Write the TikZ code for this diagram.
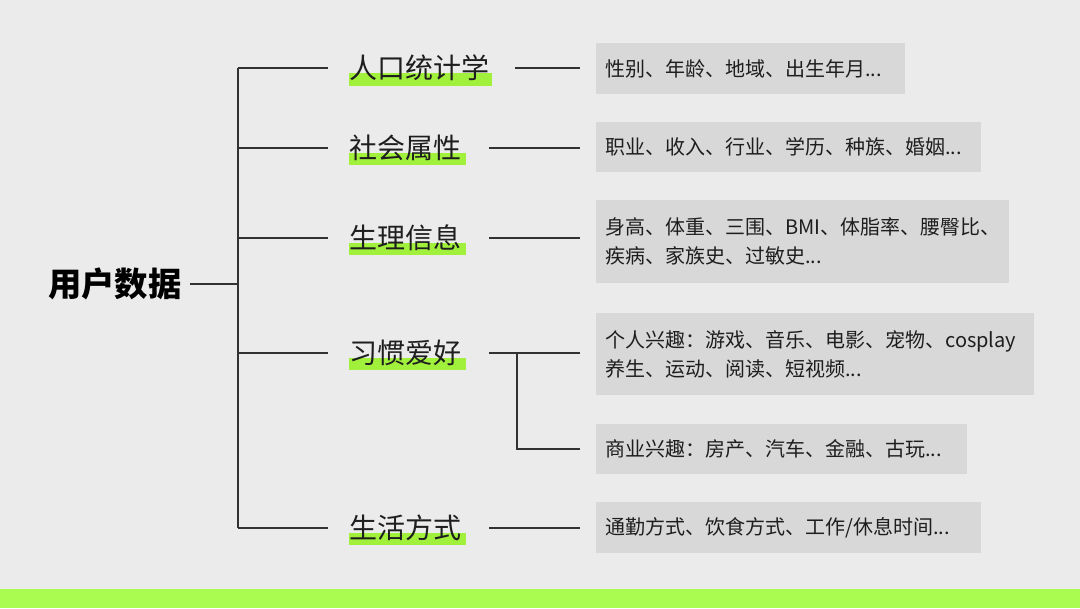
\documentclass[tikz,border=0pt]{standalone}
\usepackage{fontspec}
\usetikzlibrary{calc}
\setmainfont{Noto Sans CJK SC}
\definecolor{bg}{RGB}{235,235,235}
\definecolor{lime}{RGB}{170,252,80}
\definecolor{hl}{RGB}{160,240,60}
\definecolor{boxgray}{RGB}{216,216,216}
\definecolor{ink}{RGB}{30,30,30}
\definecolor{wire}{RGB}{50,50,50}
\begin{document}
\begin{tikzpicture}[x=0.75pt,y=-0.75pt,
  wire/.style={draw=wire, line width=1pt},
  cat/.style={anchor=west, inner xsep=15.75pt, inner ysep=0pt, text=ink, font=\fontsize{21}{25}\selectfont},
  infobox/.style={fill=boxgray, anchor=north west, inner xsep=6.75pt, inner ysep=0pt, align=left, text=ink, font=\fontsize{15}{21.75}\selectfont},
  hlbar/.style={fill=hl}]
\useasboundingbox (0,0) rectangle (1080,608);
\fill[bg] (0,0) rectangle (1080,608);
\fill[lime] (0,589) rectangle (1080,608);

% highlights
\fill[hlbar] (349,73) rectangle (492,86);
\fill[hlbar] (349,153) rectangle (466,165);
\fill[hlbar] (349,243) rectangle (466,255);
\fill[hlbar] (349,358) rectangle (466,370);
\fill[hlbar] (349,533) rectangle (466,545);

% root
\node[anchor=west, inner xsep=0pt, inner ysep=0pt, text=black, font=\fontsize{25}{30}\selectfont\bfseries] (root) at (48,284) {用户数据};

% trunk coordinates
\coordinate (tr) at (238,284);
\coordinate (t1) at (238,68);
\coordinate (t2) at (238,148);
\coordinate (t3) at (238,238);
\coordinate (t4) at (238,353);
\coordinate (t5) at (238,528);

% categories
\node[cat] (c1) at (328,68) {人口统计学};
\node[cat] (c2) at (328,148) {社会属性};
\node[cat] (c3) at (328,238) {生理信息};
\node[cat] (c4) at (328,353) {习惯爱好};
\node[cat] (c5) at (328,528) {生活方式};

% boxes
\node[infobox, text width=218.25pt, minimum height=38.25pt] (b1) at (596,43) {性别、年龄、地域、出生年月...};
\node[infobox, text width=275.25pt, minimum height=37.5pt] (b2) at (596,122) {职业、收入、行业、学历、种族、婚姻...};
\node[infobox, text width=296.25pt, minimum height=62.25pt] (b3) at (596,200) {身高、体重、三围、BMI、体脂率、腰臀比、\\疾病、家族史、过敏史...};
\node[infobox, text width=315pt, minimum height=61.5pt] (b4) at (596,313) {个人兴趣：游戏、音乐、电影、宠物、cosplay\\养生、运动、阅读、短视频...};
\node[infobox, text width=264.75pt, minimum height=37.5pt] (b5) at (596,424) {商业兴趣：房产、汽车、金融、古玩...};
\node[infobox, text width=275.25pt, minimum height=38.25pt] (b6) at (596,502) {通勤方式、饮食方式、工作/休息时间...};

% connectors
\draw[wire] ([xshift=6pt]root.east) -- (tr);
\draw[wire] (t1) -- (t5);
\draw[wire] (t1) -- (c1.west);
\draw[wire] (t2) -- (c2.west);
\draw[wire] (t3) -- (c3.west);
\draw[wire] (t4) -- (c4.west);
\draw[wire] (t5) -- (c5.west);

\draw[wire] ([xshift=3pt]c1.east) -- ($(c1.east -| b1.west)+(-16,0)$);
\draw[wire] ([xshift=5pt]c2.east) -- ($(c2.east -| b2.west)+(-16,0)$);
\draw[wire] ([xshift=5pt]c3.east) -- ($(c3.east -| b3.west)+(-16,0)$);
\draw[wire] ([xshift=5pt]c4.east) -- ($(c4.east -| b4.west)+(-16,0)$);
\draw[wire] ([xshift=5pt]c5.east) -- ($(c5.east -| b6.west)+(-16,0)$);
\coordinate (sp) at (517,353);
\coordinate (sp2) at (517,449);
\draw[wire] (sp) -- (sp2) -- ($(sp2 -| b5.west)+(-16,0)$);
\end{tikzpicture}
\end{document}
